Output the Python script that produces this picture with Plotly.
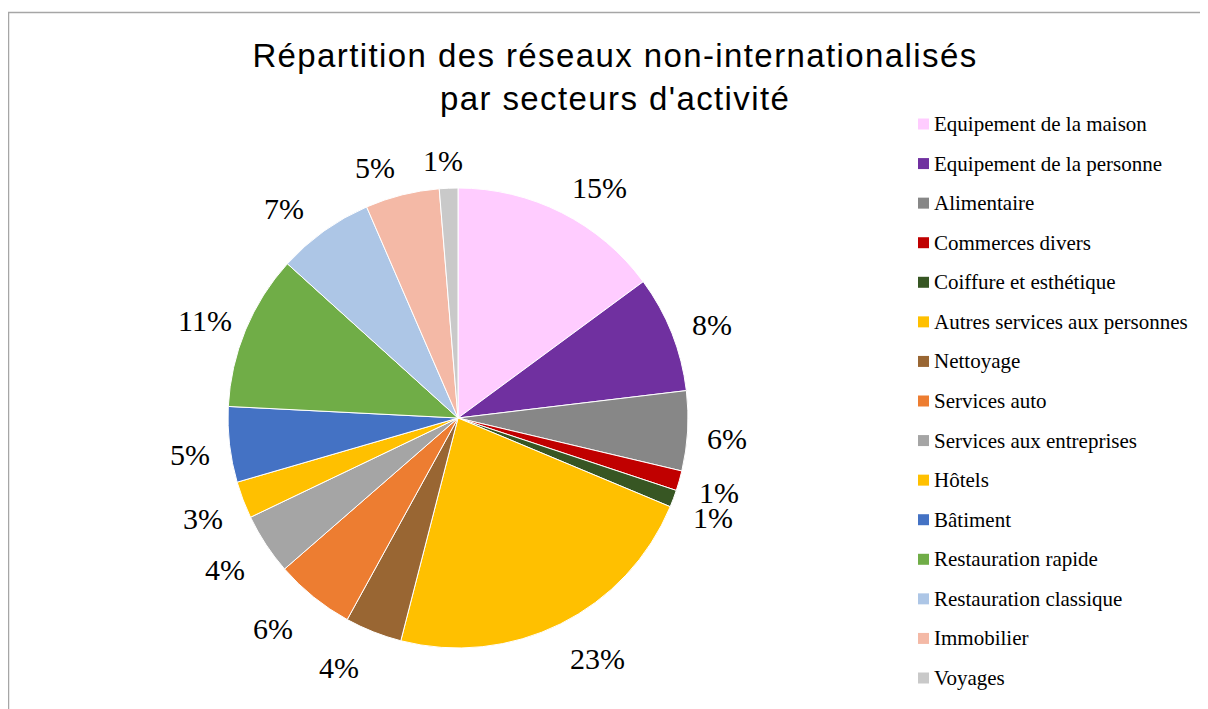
import math
import plotly.graph_objects as go

# ---- data ----
sectors = [
    "Equipement de la maison",
    "Equipement de la personne",
    "Alimentaire",
    "Commerces divers",
    "Coiffure et esthétique",
    "Autres services aux personnes",
    "Nettoyage",
    "Services auto",
    "Services aux entreprises",
    "Hôtels",
    "Bâtiment",
    "Restauration rapide",
    "Restauration classique",
    "Immobilier",
    "Voyages",
]
shares = [14.9, 8.2, 5.6, 1.4, 1.2, 22.7, 4.0, 5.6, 4.3, 2.6, 5.3, 10.9, 6.8, 5.2, 1.3]
colors = [
    "#FFCCFF", "#7030A0", "#878787", "#C00000", "#375623",
    "#FFC000", "#996633", "#ED7D31", "#A5A5A5", "#FFC000",
    "#4472C4", "#70AD47", "#ADC6E6", "#F4B9A6", "#C9C9C9",
]
title_line1 = "Répartition des réseaux non-internationalisés"
title_line2 = "par secteurs d'activité"

# ---- layout geometry (pixels in the figure) ----
W, H = 1208, 709
CX, CY, R = 450, 410, 230          # pie centre and radius
SERIF = "Times New Roman, Liberation Serif, Tinos, DejaVu Serif, serif"
SANS = "Liberation Sans, Arial, sans-serif"


def px(x):
    return x / W


def py(y):
    return 1 - y / H


fig = go.Figure()
fig.add_trace(go.Pie(
    labels=sectors,
    values=shares,
    sort=False,
    direction="clockwise",
    rotation=0,
    marker=dict(colors=colors, line=dict(color="white", width=1)),
    textinfo="none",
    domain=dict(x=[px(CX - R), px(CX + R)], y=[py(CY + R), py(CY - R)]),
    showlegend=False,
    hoverinfo="label+percent",
))

# percentage labels outside each slice, at the slice's mid angle
total = sum(shares)
cum = 0.0
label_pos = []
for v in shares:
    theta = 2 * math.pi * (cum + v / 2) / total
    cum += v
    s, c = math.sin(theta), math.cos(theta)
    lx = CX + 224 * s + 46 * math.tanh(3 * s)
    ly = CY - 258 * c + 5 * (1 - math.tanh(3 * c))
    label_pos.append([lx, ly])
# small de-overlap for neighbouring tiny slices on the right side
for i in range(1, len(label_pos)):
    (x0, y0), (x1, y1) = label_pos[i - 1], label_pos[i]
    if abs(x1 - x0) < 40 and 0 < y1 - y0 < 25:
        label_pos[i - 1][1] = y1 - 25
for v, (lx, ly) in zip(shares, label_pos):
    fig.add_annotation(xref="paper", yref="paper", x=px(lx), y=py(ly),
                       xanchor="center", yanchor="middle", showarrow=False,
                       text=f"{round(100 * v / total)}%",
                       font=dict(family=SERIF, size=30, color="#000"))

# legend (spacing matches the reference)
top_y, step = 116, (670 - 116) / 14
for i, (lab, col) in enumerate(zip(sectors, colors)):
    yc = top_y + i * step
    fig.add_shape(type="rect", xref="paper", yref="paper",
                  x0=px(910), x1=px(921), y0=py(yc + 5.5), y1=py(yc - 5.5),
                  fillcolor=col, line=dict(width=0))
    fig.add_annotation(xref="paper", yref="paper", x=px(924), y=py(yc),
                       xanchor="left", yanchor="middle", showarrow=False, text=lab,
                       font=dict(family=SERIF, size=21, color="#000"))

# chart frame
fig.add_shape(type="rect", xref="paper", yref="paper",
              x0=px(0.5), x1=1.05, y0=-0.05, y1=py(4.5),
              line=dict(color="#A6A6A6", width=1.5), fillcolor="rgba(0,0,0,0)", layer="below")

# title: two lines
fig.add_annotation(xref="paper", yref="paper", x=px(607), y=py(90), xanchor="center",
                   yanchor="middle", showarrow=False,
                   text=f"<span style='letter-spacing:1.4px'>{title_line2}</span>",
                   font=dict(family=SANS, size=33, color="#000"))

fig.update_layout(
    width=W, height=H,
    margin=dict(l=0, r=0, t=0, b=0),
    paper_bgcolor="white", plot_bgcolor="white",
    title=dict(text=f"<span style='letter-spacing:1.4px'>{title_line1}</span>",
               x=px(607), xanchor="center", xref="paper",
               y=py(47), yanchor="middle", yref="container",
               font=dict(family=SANS, size=33, color="#000")),
)

fig.write_html("out.html")
